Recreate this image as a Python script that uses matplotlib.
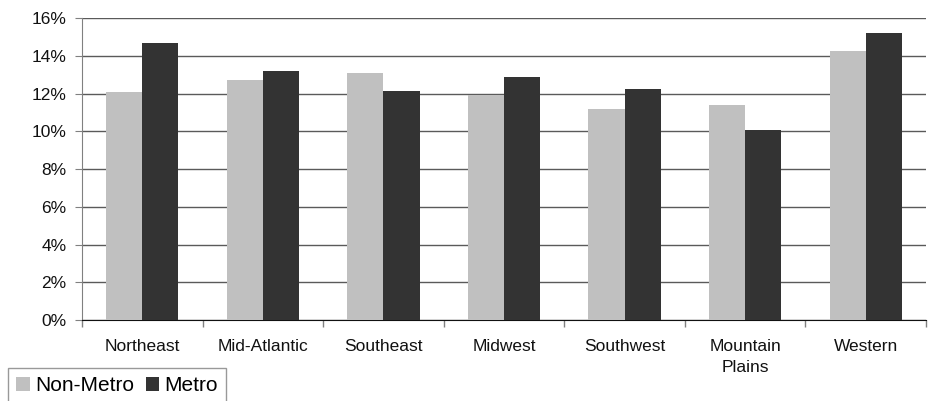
import matplotlib
matplotlib.use("Agg")
import matplotlib.pyplot as plt
import numpy as np
from matplotlib.ticker import FuncFormatter, FixedLocator

plt.rcParams['font.family'] = ['Liberation Sans', 'DejaVu Sans']

regions = ["Northeast", "Mid-Atlantic", "Southeast", "Midwest", "Southwest",
           "Mountain\nPlains", "Western"]
non_metro = [12.08, 12.72, 13.09, 11.92, 11.18, 11.39, 14.25]
metro = [14.68, 13.19, 12.13, 12.87, 12.24, 10.07, 15.21]
series_names = ["Non-Metro", "Metro"]

fig = plt.figure(figsize=(9.36, 4.01), dpi=100)
ax = fig.add_axes([82 / 936, 1 - 320 / 401, 844 / 936, 302 / 401])

x = np.arange(len(regions))
w = 0.3
b1 = ax.bar(x - w / 2, non_metro, w, color="#c0c0c0", label=series_names[0], zorder=3)
b2 = ax.bar(x + w / 2, metro, w, color="#333333", label=series_names[1], zorder=3)

ax.set_xlim(-0.5, len(regions) - 0.5)
ax.set_ylim(0, 16)
ax.set_yticks(np.arange(0, 17, 2))
ax.yaxis.set_major_formatter(FuncFormatter(lambda v, p: f"{v:.0f}%"))
ax.yaxis.grid(True, color="#5a5a5a", linewidth=1.0, zorder=0)
ax.set_axisbelow(True)

ax.set_xticks(x)
ax.set_xticklabels(regions, fontsize=12.5, color="#111111", linespacing=1.5)
ax.tick_params(axis="x", which="major", length=0, pad=14)
ax.xaxis.set_minor_locator(FixedLocator(np.arange(-0.5, len(regions), 1.0)))
ax.tick_params(axis="x", which="minor", length=5, color="#808080", width=1)
ax.tick_params(axis="y", length=5, color="#808080", labelsize=12.5, pad=6, labelcolor="#111111")

for s in ["top", "right"]:
    ax.spines[s].set_visible(False)
ax.spines["left"].set_color("#808080")
ax.spines["bottom"].set_color("#111111")

leg = fig.legend(handles=[b1, b2], labels=series_names, loc="upper left",
                 bbox_to_anchor=(8 / 936, 1 - 368 / 401), fontsize=15,
                 frameon=True, fancybox=False, edgecolor="#808080",
                 handlelength=0.65, handleheight=0.65, handletextpad=0.25,
                 columnspacing=0.55, ncol=2, borderpad=0.4, borderaxespad=0)
leg.get_frame().set_linewidth(1.0)

fig.savefig("out.png", dpi=100)
